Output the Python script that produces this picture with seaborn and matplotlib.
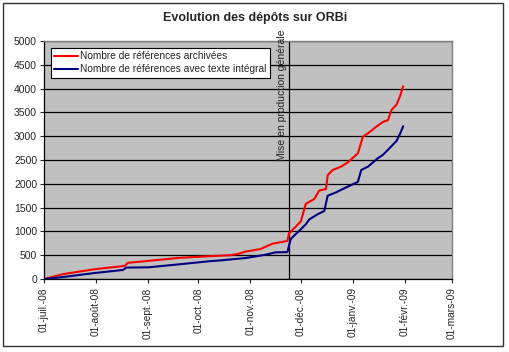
import matplotlib
matplotlib.use("Agg")
import matplotlib.pyplot as plt
from matplotlib.patches import Rectangle
import pandas as pd
import seaborn as sns

# ── Data ─────────────────────────────────────────────────────────────────────
ARCH_DATES = [
    "2008-07-01", "2008-07-12", "2008-07-31", "2008-08-18", "2008-08-20",
    "2008-09-01", "2008-09-20", "2008-10-08", "2008-10-20", "2008-10-25",
    "2008-10-29", "2008-11-07", "2008-11-14", "2008-11-23", "2008-11-24",
    "2008-11-28", "2008-12-01", "2008-12-04", "2008-12-09", "2008-12-12",
    "2008-12-16", "2008-12-17", "2008-12-20", "2008-12-25", "2008-12-29",
    "2009-01-04", "2009-01-07", "2009-01-10", "2009-01-15", "2009-01-19",
    "2009-01-22", "2009-01-24", "2009-01-27", "2009-01-29", "2009-01-31",
]
ARCH_VALUES = [
    0, 100, 205, 275, 340,
    380, 445, 480, 500, 530,
    575, 630, 740, 800, 960,
    1100, 1210, 1580, 1680, 1860,
    1890, 2180, 2290, 2360, 2450,
    2640, 2990, 3060, 3200, 3300,
    3340, 3550, 3660, 3830, 4050,
]

FULL_DATES = [
    "2008-07-01", "2008-07-12", "2008-07-31", "2008-08-17", "2008-08-19",
    "2008-09-01", "2008-09-20", "2008-10-08", "2008-10-14", "2008-10-29",
    "2008-11-10", "2008-11-16", "2008-11-23", "2008-11-25", "2008-11-27",
    "2008-11-30", "2008-12-04", "2008-12-06", "2008-12-11", "2008-12-15",
    "2008-12-17", "2008-12-22", "2008-12-26", "2009-01-04", "2009-01-06",
    "2009-01-10", "2009-01-16", "2009-01-19", "2009-01-24", "2009-01-27",
    "2009-01-29", "2009-01-31",
]
FULL_VALUES = [
    0, 40, 125, 190, 240,
    245, 310, 375, 390, 440,
    510, 560, 565, 840, 910,
    1010, 1150, 1250, 1360, 1430,
    1750, 1820, 1890, 2040, 2290,
    2360, 2540, 2610, 2790, 2900,
    3040, 3210,
]

TICK_DATES = [
    "2008-07-01", "2008-08-01", "2008-09-01", "2008-10-01", "2008-11-01",
    "2008-12-01", "2009-01-01", "2009-02-01", "2009-03-01",
]
TICK_LABELS = [
    "01-juil.-08", "01-août-08", "01-sept.-08", "01-oct.-08", "01-nov.-08",
    "01-déc.-08", "01-janv.-09", "01-févr.-09", "01-mars-09",
]
PROD_DATE = "2008-11-24"

LABEL_ARCH = "Nombre de références archivées"
LABEL_FULL = "Nombre de références avec texte intégral"

# ── Figure ───────────────────────────────────────────────────────────────────
sns.set_style("white")
plt.rcParams["font.family"] = ["Liberation Sans", "DejaVu Sans"]

fig = plt.figure(figsize=(5.10, 3.52), dpi=100)
fig.patch.set_facecolor("white")
ax = fig.add_axes([0.0863, 0.2074, 0.7997, 0.6761])
ax.set_facecolor("#c0c0c0")

df_arch = pd.DataFrame({"date": pd.to_datetime(ARCH_DATES), "n": ARCH_VALUES})
df_full = pd.DataFrame({"date": pd.to_datetime(FULL_DATES), "n": FULL_VALUES})

sns.lineplot(data=df_arch, x="date", y="n", ax=ax, color="#ff0000",
             lw=1.5, label=LABEL_ARCH, zorder=3)
sns.lineplot(data=df_full, x="date", y="n", ax=ax, color="#000080",
             lw=1.5, label=LABEL_FULL, zorder=3)

ax.set_xlim(pd.Timestamp(TICK_DATES[0]), pd.Timestamp(TICK_DATES[-1]))
ax.set_ylim(0, 5000)
ax.set_yticks(range(0, 5001, 500))
ax.tick_params(axis="y", labelsize=7.5, length=3, direction="out",
               left=True, pad=2)
ax.set_xticks(pd.to_datetime(TICK_DATES))
ax.set_xticklabels(TICK_LABELS, rotation=90, fontsize=7.3)
ax.tick_params(axis="x", length=3, direction="out", bottom=True, pad=3)
ax.set_xlabel("")
ax.set_ylabel("")

ax.grid(True, axis="y", color="black", lw=0.9)
ax.grid(False, axis="x")
ax.set_axisbelow(True)
for side in ["top", "right"]:
    ax.spines[side].set_color("#808080")
    ax.spines[side].set_linewidth(1.0)
for side in ["left", "bottom"]:
    ax.spines[side].set_color("black")
    ax.spines[side].set_linewidth(0.9)

# production start marker
prod = pd.Timestamp(PROD_DATE)
ax.axvline(prod, color="black", lw=0.9, zorder=2)
ax.text(prod - pd.Timedelta(days=1.2), 2480, "Mise en production générale",
        rotation=90, ha="right", va="bottom", fontsize=7.5, color="#222")

leg = ax.legend(loc="upper left", bbox_to_anchor=(0.012, 0.98),
                fontsize=7.3, frameon=True, fancybox=False,
                handlelength=2.3, handletextpad=0.2, borderpad=0.35,
                labelspacing=0.3, borderaxespad=0.2)
leg.get_frame().set_edgecolor("black")
leg.get_frame().set_linewidth(0.8)
leg.get_frame().set_facecolor("white")
leg.get_frame().set_alpha(1.0)

fig.text(0.5, 0.948, "Evolution des dépôts sur ORBi", ha="center",
         va="center", fontsize=9, fontweight="bold")

# outer chart border
fig.patches.append(Rectangle((0.006, 0.017), 0.980, 0.975,
                             transform=fig.transFigure, fill=False,
                             edgecolor="#333333", lw=1.0))

fig.savefig("out.png", dpi=100)
plt.close(fig)
